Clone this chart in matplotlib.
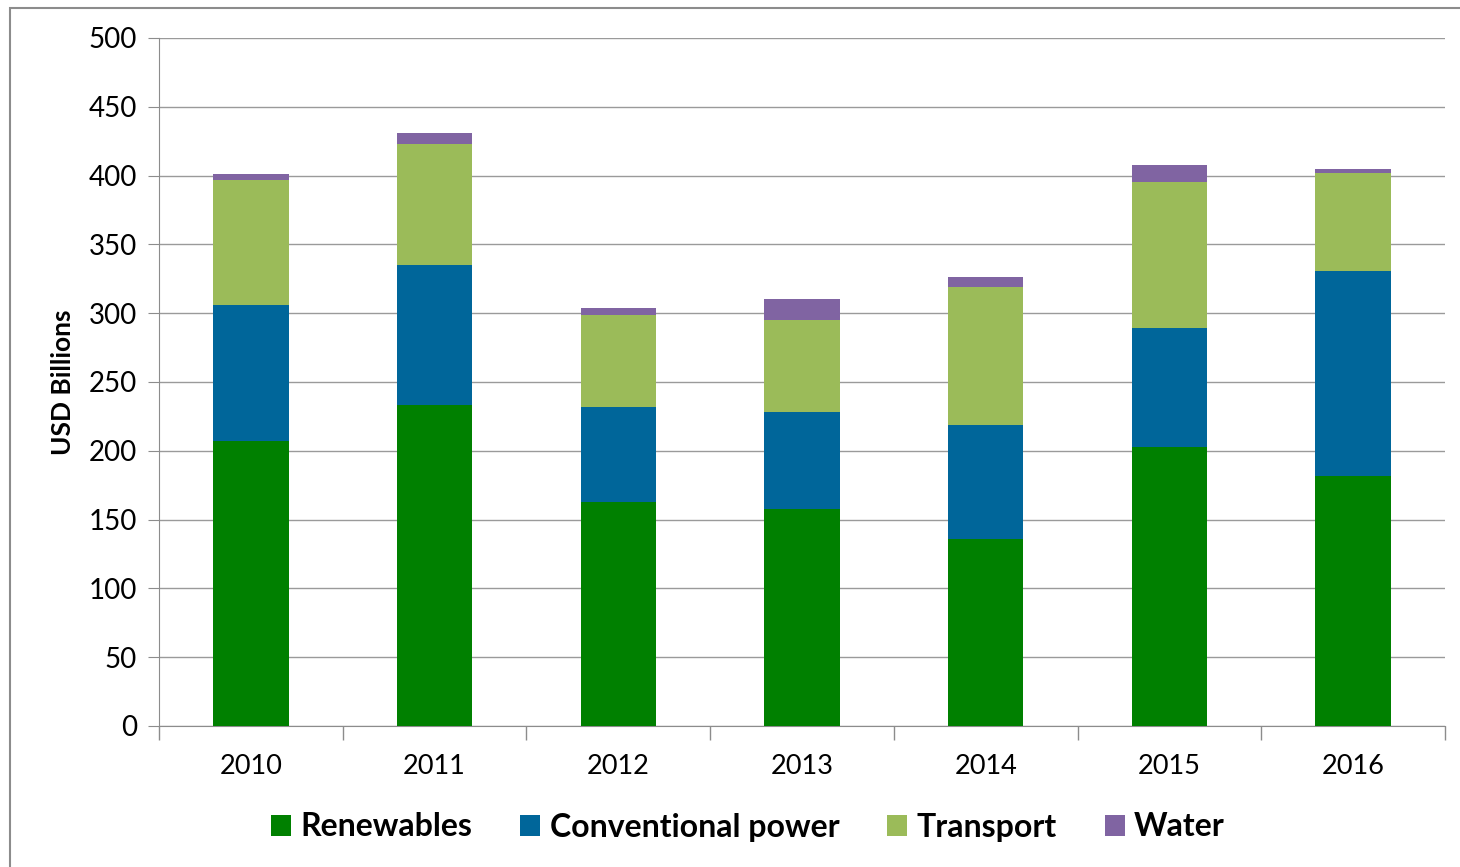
import numpy as np
import matplotlib.pyplot as plt
from matplotlib.patches import Rectangle

years = ['2010', '2011', '2012', '2013', '2014', '2015', '2016']
renewables = [207, 233, 163, 158, 136, 203, 182]
conventional = [99, 102, 69, 70, 83, 86, 149]
transport = [91, 88, 67, 67, 100, 106, 71]
water = [4, 8, 5, 15, 7, 13, 3]

series = [('Renewables', renewables, '#008000'),
          ('Conventional power', conventional, '#00669A'),
          ('Transport', transport, '#9BBB59'),
          ('Water', water, '#8064A2')]

plt.rcParams['font.family'] = ['Lato', 'DejaVu Sans']

fig = plt.figure(figsize=(14.6, 8.67), dpi=100)
ax = fig.add_axes([159 / 1460, 1 - 726 / 867, (1445 - 159) / 1460, (726 - 38) / 867])

# outer chart frame
fig.patches.append(Rectangle((10 / 1460, -0.1), 1.1, 1 - 8 / 867 + 0.1, transform=fig.transFigure,
                             fill=False, edgecolor='#8c8c8c', linewidth=1.5))

x = np.arange(len(years))
bottom = np.zeros(len(years))
for name, vals, col in series:
    ax.bar(x, vals, width=0.41, bottom=bottom, color=col, label=name, zorder=3)
    bottom += np.array(vals)

ax.set_xlim(-0.5, len(years) - 0.5)
ax.set_ylim(0, 500)
ax.set_yticks(np.arange(0, 501, 50))
ax.set_xticks(x)
ax.set_xticklabels(years)
ax.set_xticks(np.arange(-0.5, len(years), 1), minor=True)
ax.tick_params(axis='x', which='major', length=0, pad=20, labelsize=19.5)
ax.tick_params(axis='x', which='minor', length=10, color='#8c8c8c', width=1)
ax.tick_params(axis='y', length=8, color='#8c8c8c', labelsize=20, pad=8)
ax.yaxis.grid(True, color='#9a9a9a', linewidth=1, zorder=0)

for s in ['top', 'right']:
    ax.spines[s].set_visible(False)
for s in ['left', 'bottom']:
    ax.spines[s].set_color('#8c8c8c')

ax.set_ylabel('USD Billions', fontsize=19, fontweight='bold', labelpad=10)

fig.legend(loc='center', bbox_to_anchor=(748 / 1460, 1 - 827 / 867), ncol=4, frameon=False,
           prop={'size': 23, 'weight': 'bold'}, handlelength=0.62, handleheight=0.62,
           handletextpad=0.3, columnspacing=1.5)

fig.savefig('out.png', dpi=100)
